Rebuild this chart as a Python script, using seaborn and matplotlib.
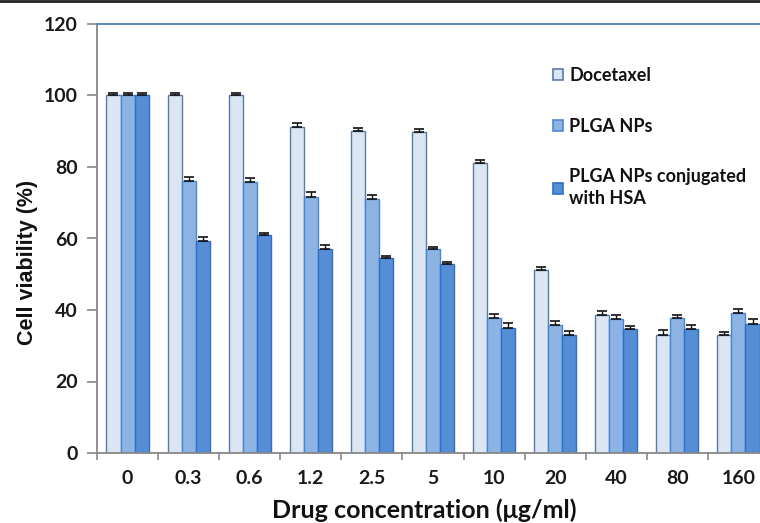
import numpy as np
import pandas as pd
import matplotlib
matplotlib.use("Agg")
import matplotlib.pyplot as plt
import seaborn as sns
from matplotlib.lines import Line2D

categories = ["0", "0.3", "0.6", "1.2", "2.5", "5", "10", "20", "40", "80", "160"]
series = ["Docetaxel", "PLGA NPs", "PLGA NPs conjugated\nwith HSA"]
docetaxel = [100.0, 100.0, 100.0, 91.3, 90.1, 89.7, 81.0, 51.1, 38.5, 33.1, 33.1]
plga = [100.0, 76.1, 75.8, 71.7, 71.0, 57.1, 37.7, 35.8, 37.4, 37.8, 39.2]
plga_hsa = [100.0, 59.4, 60.9, 57.1, 54.5, 52.8, 35.1, 33.1, 34.7, 34.7, 36.2]
err_doc = [0.6, 0.6, 0.6, 1.1, 0.8, 0.9, 0.85, 0.8, 1.2, 1.2, 0.8]
err_plga = [0.6, 1.1, 1.0, 1.2, 1.1, 0.65, 1.3, 1.1, 1.2, 0.8, 1.2]
err_hsa = [0.6, 1.0, 0.75, 1.1, 0.7, 0.75, 1.3, 1.1, 0.8, 1.2, 1.3]

fills = ["#dce6f2", "#8db3e2", "#558ed5"]
edges = ["#5a7aa8", "#4a86d8", "#2e6fca"]

df = pd.DataFrame({
    "conc": categories * 3,
    "series": [series[0]] * 11 + [series[1]] * 11 + [series[2]] * 11,
    "value": docetaxel + plga + plga_hsa,
    "err": err_doc + err_plga + err_hsa,
})

sns.set_style("white")
plt.rcParams["font.family"] = ["Lato", "DejaVu Sans"]
plt.rcParams["font.weight"] = "bold"

fig = plt.figure(figsize=(7.6, 5.23), dpi=100)
ax = fig.add_axes([97 / 760, 70 / 523, 672 / 760, 429 / 523])

sns.barplot(data=df, x="conc", y="value", hue="series", order=categories,
            hue_order=series, palette=fills, saturation=1, width=0.69, gap=0,
            errorbar=None, ax=ax, linewidth=1.0, legend=True)

n = len(categories)
for i, s in enumerate(series):
    bars = ax.containers[i]
    xs, ys = [], []
    for bar in bars:
        bar.set_edgecolor(edges[i])
        bar.set_linewidth(1.0)
        xs.append(bar.get_x() + bar.get_width() / 2)
        ys.append(bar.get_height())
    sub = df[df["series"] == s]
    yerr = [np.zeros(n), sub["err"].values]
    ax.errorbar(xs, ys, yerr=yerr, fmt="none", ecolor="#111111",
                elinewidth=1.0, capsize=3.5, capthick=1.2, zorder=5)

ax.set_ylim(0, 120)
ax.set_xlim(-0.5, n - 0.5)
ax.set_yticks([0, 20, 40, 60, 80, 100, 120])
ax.set_xticks(np.arange(n))
ax.set_xticklabels(categories)
ax.set_xticks(np.arange(n + 1) - 0.5, minor=True)
ax.tick_params(axis="x", which="major", length=0, pad=12, labelsize=14)
ax.tick_params(axis="x", which="minor", bottom=True, length=5, width=1.2,
               color="#888888", direction="out")
ax.tick_params(axis="y", left=True, length=7, width=1.2, color="#888888",
               direction="out", labelsize=14, pad=7)
for lab in ax.get_xticklabels() + ax.get_yticklabels():
    lab.set_fontweight("bold")
    lab.set_color("#1a1a1a")

for side in ["left", "bottom"]:
    ax.spines[side].set_color("#888888")
    ax.spines[side].set_linewidth(1.3)
ax.spines["top"].set_visible(True)
ax.spines["top"].set_color("#4f81bd")
ax.spines["top"].set_linewidth(1.3)
ax.spines["right"].set_visible(False)

ax.set_xlabel("Drug concentration (μg/ml)", fontsize=18, fontweight="bold",
              color="#111111")
ax.xaxis.set_label_coords((424 - 97) / 672, -(510 - 453) / 429)
ax.xaxis.label.set_va("center")
ax.set_ylabel("Cell viability (%)", fontsize=15.5, fontweight="bold",
              color="#111111", family=["Liberation Sans", "DejaVu Sans"])
ax.yaxis.set_label_coords(-(97 - 28) / 672, (453 - 262) / 429)
ax.yaxis.label.set_va("center")

handles, labels = ax.get_legend_handles_labels()
for h, ec in zip(handles, edges):
    h.set_edgecolor(ec)
    h.set_linewidth(1.2)
leg = ax.legend(handles, labels, loc="upper left",
                bbox_to_anchor=((546 - 97) / 672, 1 - (60 - 24) / 429),
                frameon=False, fontsize=13, handlelength=0.55,
                handleheight=0.55, handletextpad=0.35, labelspacing=1.85,
                borderaxespad=0)
for t in leg.get_texts():
    t.set_fontweight("bold")
    t.set_color("#111111")
    t.set_linespacing(1.35)

fig.add_artist(Line2D([0, 1], [0.998, 0.998], transform=fig.transFigure,
                      color="#222222", linewidth=2.0))

fig.savefig("out.png", dpi=100)
